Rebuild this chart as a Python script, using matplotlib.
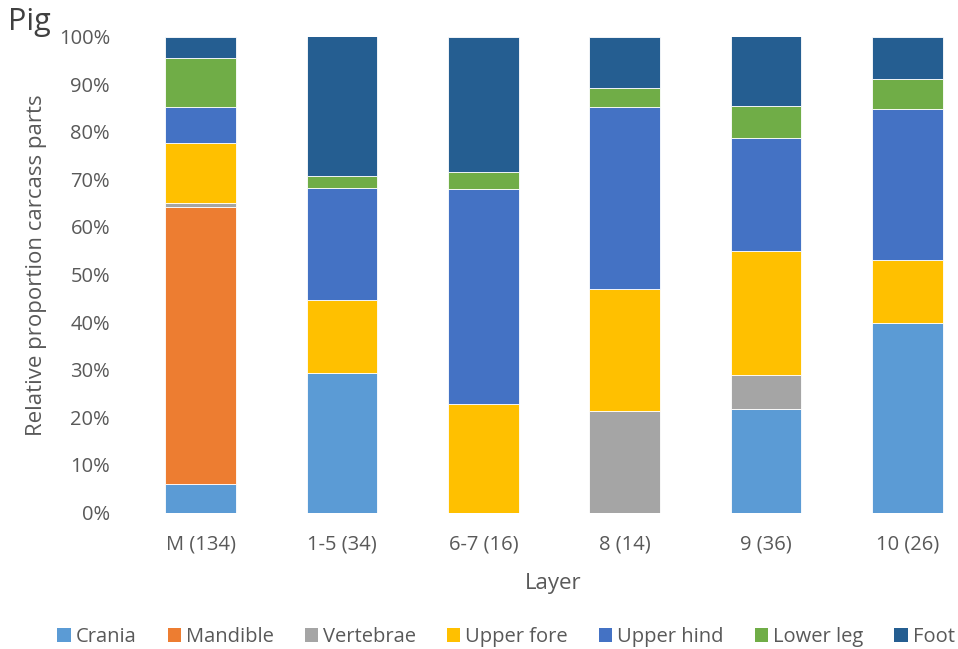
import matplotlib
matplotlib.use("Agg")
import matplotlib.pyplot as plt
from matplotlib.ticker import PercentFormatter
from matplotlib.patches import Patch

plt.rcParams['font.family'] = ['Open Sans', 'DejaVu Sans']

layers = ["M (134)", "1-5 (34)", "6-7 (16)", "8 (14)", "9 (36)", "10 (26)"]
parts = ["Crania", "Mandible", "Vertebrae", "Upper fore", "Upper hind", "Lower leg", "Foot"]

crania     = [6.0, 29.3, 0.0, 0.0, 21.7, 39.8]
mandible   = [58.2, 0.0, 0.0, 0.0, 0.0, 0.0]
vertebrae  = [0.8, 0.0, 0.0, 21.4, 7.2, 0.0]
upper_fore = [12.6, 15.4, 22.8, 25.6, 26.0, 13.2]
upper_hind = [7.6, 23.5, 45.2, 38.2, 23.8, 31.7]
lower_leg  = [10.3, 2.5, 3.5, 4.0, 6.8, 6.4]
foot       = [4.5, 29.8, 28.5, 10.8, 14.5, 8.9]

series = [crania, mandible, vertebrae, upper_fore, upper_hind, lower_leg, foot]
colors = ["#5B9BD5", "#ED7D31", "#A5A5A5", "#FFC000", "#4472C4", "#70AD47", "#255E91"]

fig = plt.figure(figsize=(9.58, 6.49), dpi=100)
ax = fig.add_axes([130/958, (649-512.5)/649, (978-130)/958, 476/649])

x = list(range(len(layers)))
bottom = [0.0] * len(layers)
for vals, c, name in zip(series, colors, parts):
    ax.bar(x, vals, width=0.5, bottom=bottom, color=c, edgecolor="white",
           linewidth=0.6, label=name)
    bottom = [b + v for b, v in zip(bottom, vals)]

ax.set_ylim(0, 100)
ax.set_xlim(-0.5, 5.5)
ax.set_yticks(range(0, 101, 10))
ax.yaxis.set_major_formatter(PercentFormatter(decimals=0))
ax.set_xticks(x)
ax.set_xticklabels(layers)
for s in ax.spines.values():
    s.set_visible(False)
ax.tick_params(axis='both', length=0, colors="#595959", labelsize=14.5)
ax.tick_params(axis='x', pad=16)
ax.tick_params(axis='y', pad=14.4)

fig.text(37/958, (649-265)/649, "Relative proportion carcass parts",
         rotation=90, ha='center', va='center', fontsize=16, color="#595959")
fig.text(553/958, 1 - 583/649, "Layer", ha='center', va='center', fontsize=16, color="#595959")
fig.text(8/958, 1 - 22/649, "Pig", ha='left', va='center', fontsize=22, color="#404040")

handles = [Patch(facecolor=c, edgecolor='none') for c in colors]
fig.legend(handles, parts, loc='center', bbox_to_anchor=(506/958, 1 - 637/649), ncol=7,
           frameon=False, fontsize=14.5, handlelength=0.65, handleheight=0.65,
           handletextpad=0.25, columnspacing=1.55, labelcolor="#595959")

fig.savefig("out.png", dpi=100)
